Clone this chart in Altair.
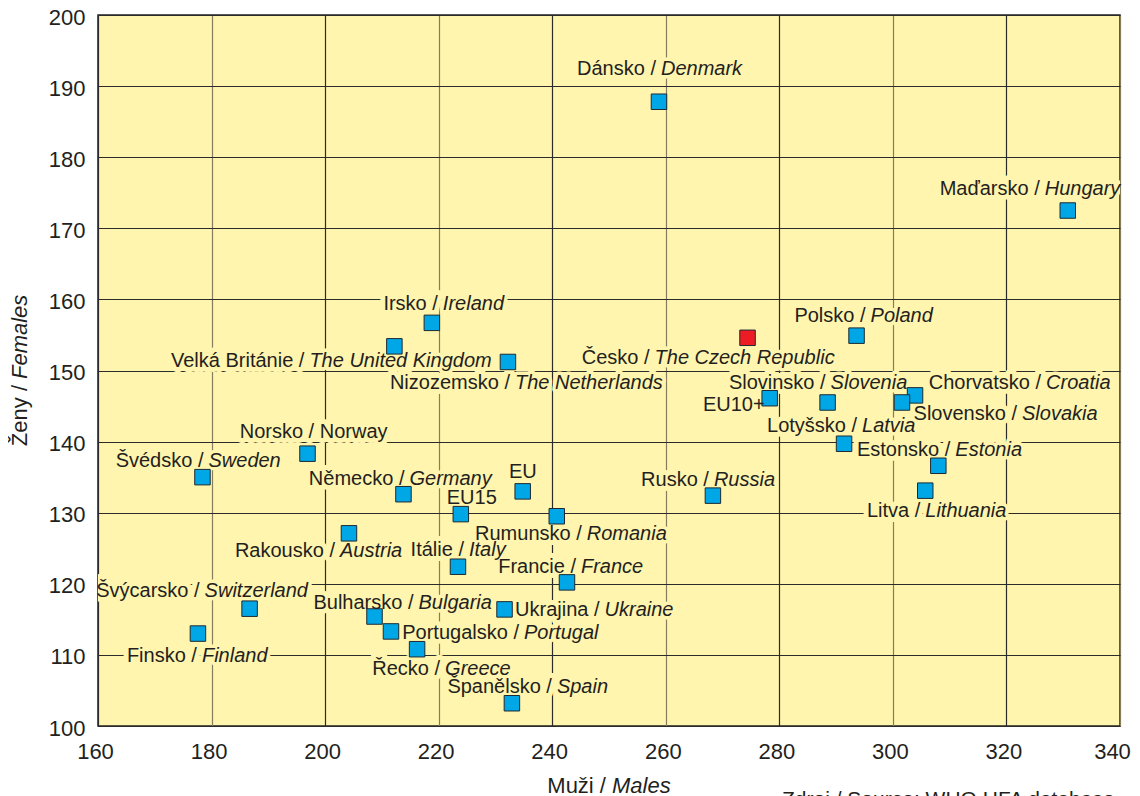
import altair as alt
import pandas as pd

# ---- data ----
names_cz = ["Dánsko /", "Maďarsko /", "Česko /", "Polsko /", "Irsko /",
            "Velká Británie /", "Nizozemsko /", "Slovinsko /", "EU10+", "Chorvatsko /",
            "Slovensko /", "Lotyšsko /", "Estonsko /", "Litva /", "Rusko /",
            "Norsko / Norway", "Švédsko /", "Německo /", "EU", "EU15",
            "Rumunsko /", "Rakousko /", "Itálie /", "Francie /", "Švýcarsko /",
            "Bulharsko /", "Ukrajina /", "Portugalsko /", "Finsko /", "Řecko /",
            "Španělsko /"]
names_en = ["Denmark", "Hungary", "The Czech Republic", "Poland", "Ireland",
            "The United Kingdom", "The Netherlands", "Slovenia", "", "Croatia",
            "Slovakia", "Latvia", "Estonia", "Lithuania", "Russia",
            "", "Sweden", "Germany", "", "",
            "Romania", "Austria", "Italy", "France", "Switzerland",
            "Bulgaria", "Ukraine", "Portugal", "Finland", "Greece",
            "Spain"]
males = [258.8, 330.8, 274.4, 293.6, 218.8,
         212.2, 232.2, 288.5, 278.3, 303.9,
         301.6, 291.4, 308.0, 305.7, 268.3,
         196.9, 178.4, 213.8, 234.8, 223.9,
         240.8, 204.2, 223.4, 242.6, 186.7,
         208.7, 231.6, 211.6, 177.6, 216.2,
         232.9]
females = [187.8, 172.5, 154.6, 154.9, 156.7,
           153.4, 151.2, 145.5, 146.1, 146.5,
           145.5, 139.7, 136.6, 133.1, 132.4,
           138.3, 135.0, 132.6, 133.0, 129.8,
           129.5, 127.1, 122.4, 120.2, 116.5,
           115.4, 116.4, 113.3, 113.0, 110.8,
           103.2]
highlight = ["Česko /"]

x_ticks = [160, 180, 200, 220, 240, 260, 280, 300, 320, 340]
y_ticks = [100, 110, 120, 130, 140, 150, 160, 170, 180, 190, 200]

# ---- layout (pixel offsets of each label anchor from its marker) ----
label_dx = [2, -23, -93, 14, 11, -85, 7, 3, 0, 131,
            120, 18, 17, 0, 1, 85, 6, 6, 19, 41,
            30, -9, 11, 14, -45, 44, 100, 133, 4, 28, 45]
label_dy = [-27, -16, 26, -14, -13, 21, 27, -13, 13, -6,
            18, -12, -10, 26, -10, -16, -10, -9, -13, -10,
            24, 24, -11, -9, -12, -8, 7, 8, 28, 26, -10]

W, H = 1022, 711
X_DOM = [160, 340]
Y_DOM = [100, 200]
px_x = W / (X_DOM[1] - X_DOM[0])
px_y = H / (Y_DOM[1] - Y_DOM[0])

BG = "#FFF5AE"
INK = "#231F20"
FONT = "Liberation Sans"

df = pd.DataFrame({
    "cz": names_cz, "en": names_en, "male": males, "female": females,
})
df["hl"] = df["cz"].isin(highlight)
df["lx"] = df["male"] + pd.Series(label_dx) / px_x
df["ly"] = df["female"] - pd.Series(label_dy) / px_y

xscale = alt.Scale(domain=X_DOM, nice=False, zero=False)
yscale = alt.Scale(domain=Y_DOM, nice=False, zero=False)

xaxis = alt.Axis(values=x_ticks, title=None, grid=True, domain=False, ticks=False,
                 tickSize=0, labelPadding=15, labelFontSize=22, labelFont=FONT,
                 labelColor=INK, labelFlush=False,
                 labelOffset={"condition": {"test": "datum.value == 340", "value": -8},
                              "value": -3},
                 gridColor={"condition": {"test": "datum.value % 40 == 20", "value": "#857d5c"},
                            "value": "#2b2b2b"},
                 gridWidth=1.2)
yaxis = alt.Axis(values=y_ticks, title=None, grid=True, domain=False, ticks=False,
                 tickSize=0, labelPadding=13, labelFontSize=22, labelFont=FONT,
                 labelColor=INK, labelFlush=False, labelOffset=2,
                 gridColor="#2b2b2b", gridWidth=1.2)

base = alt.Chart(df)

points = base.mark_square(size=240, stroke="#1d2a33", strokeWidth=1, opacity=1).encode(
    x=alt.X("male:Q", scale=xscale, axis=xaxis),
    y=alt.Y("female:Q", scale=yscale, axis=yaxis),
    fill=alt.condition("datum.hl", alt.value("#ED1C24"), alt.value("#00A7E6")),
)

def lab(field, align, dx, halo):
    kw = dict(align=align, baseline="alphabetic", dx=dx, fontSize=20, font=FONT)
    if field == "en":
        kw["fontStyle"] = "italic"
    if halo:
        kw.update(fill=BG, stroke=BG, strokeWidth=halo, strokeJoin="round", clip=True)
    else:
        kw.update(fill=INK)
    return base.mark_text(**kw).encode(
        x=alt.X("lx:Q", scale=xscale, axis=xaxis),
        y=alt.Y("ly:Q", scale=yscale, axis=yaxis),
        text=f"{field}:N",
    )

one = alt.Chart(pd.DataFrame({"k": [0]}))

def note(txt, x, y, align, italic=False, angle=0, size=22):
    kw = dict(align=align, baseline="alphabetic", fontSize=size, font=FONT, fill=INK)
    if italic:
        kw["fontStyle"] = "italic"
    if angle:
        kw["angle"] = angle
    return one.mark_text(**kw).encode(x=alt.value(x), y=alt.value(y), text=alt.value(txt))

titles = [
    note("Muži /", 508, 778, "right"),
    note("Males", 514, 778, "left", italic=True),
    note("Ženy /", -71, 370, "right", angle=270),
    note("Females", -71, 364, "left", italic=True, angle=270),
    note("Zdroj / Source: WHO HFA database", 684, 791, "left", size=21),
]

chart = alt.layer(
    lab("cz", "right", -5, 10), lab("en", "left", 0, 7),
    points,
    lab("cz", "right", -5, 0), lab("en", "left", 0, 0),
    *titles,
).properties(
    width=W, height=H,
    autosize=alt.AutoSizeParams(type="none"),
    padding={"left": 90, "top": 7, "right": 12, "bottom": 85},
).configure_view(
    fill=BG, stroke="#222222", strokeWidth=1.5,
)

chart.save("out.html", embed_options={"renderer": "svg", "actions": False})
